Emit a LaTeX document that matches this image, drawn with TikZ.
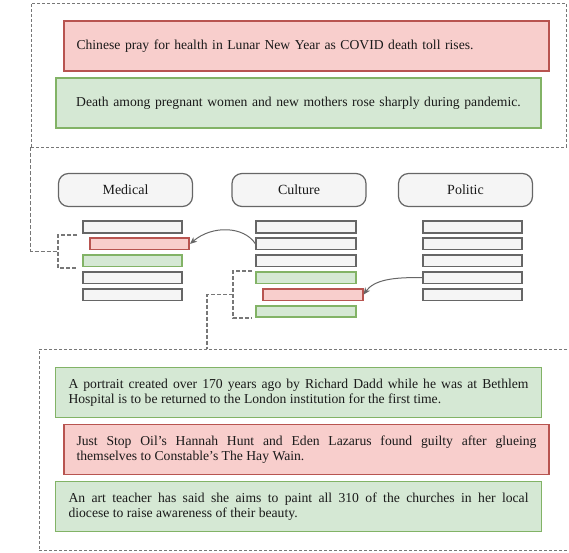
\documentclass[tikz,border=0pt]{standalone}
\usepackage{fontspec}
\setmainfont{Liberation Serif}
\usetikzlibrary{arrows.meta}
\definecolor{redfill}{HTML}{F8CECC}
\definecolor{redline}{HTML}{B85450}
\definecolor{greenfill}{HTML}{D5E8D4}
\definecolor{greenline}{HTML}{82B366}
\definecolor{grayfill}{HTML}{F5F5F5}
\definecolor{grayline}{HTML}{666666}
\definecolor{dashcol}{HTML}{777777}
\definecolor{txt}{HTML}{1A1A1A}
\begin{document}
\begin{tikzpicture}[x=1pt,y=-1pt,
  frame/.style={draw=dashcol, dash pattern=on 3pt off 2pt, line width=0.8pt, inner sep=0pt},
  txtbox/.style={line width=1.2pt, inner ysep=0pt, minimum height=50pt, text=txt, font=\fontsize{13.65}{14.6}\selectfont},
  redbox/.style={txtbox, draw=redline, fill=redfill},
  greenbox/.style={txtbox, draw=greenline, fill=greenfill},
  cat/.style={draw=grayline, fill=grayfill, rounded corners=10pt, line width=1.2pt, minimum width=134pt, minimum height=33pt, inner sep=0pt, text=txt, font=\fontsize{14}{16}\selectfont},
  bar/.style={line width=1.6pt, minimum width=99.5pt, minimum height=11.5pt, inner sep=0pt},
  gbar/.style={bar, draw=grayline, fill=grayfill},
  rbar/.style={bar, draw=redline, fill=redfill},
  ebar/.style={bar, draw=greenline, fill=greenfill},
  link/.style={draw=dashcol, dash pattern=on 4pt off 2pt, line width=1.2pt},
  arr/.style={draw=grayline, line width=1pt, -{Stealth[length=7pt,width=6pt]}}
]
\useasboundingbox (0,0) rectangle (569,552);

% top frame
\node[frame, minimum width=535pt, minimum height=144pt] (topframe) at (298.5,75) {};
\node[redbox, inner xsep=12.5pt, text width=460pt, align=left] (t1) at (306.5,46)
  {Chinese pray for health in Lunar New Year as COVID death toll rises.};
\node[greenbox, inner xsep=12.5pt, text width=460pt, align=center] (t2) at (298.5,103)
  {Death among pregnant women and new mothers rose sharply during pandemic.};

% categories
\node[cat] (medical) at (125.5,190) {Medical};
\node[cat] (culture) at (299,190) {Culture};
\node[cat] (politic) at (465.5,190) {Politic};

% medical column
\node[gbar] (m1) at (132.5,227) {};
\node[rbar] (m2) at (139.5,243.9) {};
\node[ebar] (m3) at (132.5,260.8) {};
\node[gbar] (m4) at (132.5,277.7) {};
\node[gbar] (m5) at (132.5,294.6) {};

% culture column
\node[gbar] (c1) at (306,227) {};
\node[gbar] (c2) at (306,243.9) {};
\node[gbar] (c3) at (306,260.8) {};
\node[ebar] (c4) at (306,277.7) {};
\node[rbar] (c5) at (313,294.6) {};
\node[ebar] (c6) at (306,311.5) {};

% politic column
\node[gbar] (p1) at (472.5,227) {};
\node[gbar] (p2) at (472.5,243.9) {};
\node[gbar] (p3) at (472.5,260.8) {};
\node[gbar] (p4) at (472.5,277.7) {};
\node[gbar] (p5) at (472.5,294.6) {};

% bottom frame
\node[frame, minimum width=531pt, minimum height=201pt] (botframe) at (304.5,449.5) {};
\node[greenbox, inner xsep=13pt, text width=460pt, align=justify] (b1) at (298.5,392.5)
  {A portrait created over 170 years ago by Richard Dadd while he was at Bethlem\linebreak Hospital is to be returned to the London institution for the first time.};
\node[redbox, inner xsep=12.5pt, text width=460pt, align=justify] (b2) at (306.5,449.5)
  {Just Stop Oil’s Hannah Hunt and Eden Lazarus found guilty after glueing\linebreak themselves to Constable’s The Hay Wain.};
\node[greenbox, inner xsep=13pt, text width=460pt, align=justify] (b3) at (298.5,506.5)
  {An art teacher has said she aims to paint all 310 of the churches in her local\linebreak diocese to raise awareness of their beauty.};

% medical bracket
\coordinate (mtop) at (77,235);
\coordinate (mbot) at (77,268);
\coordinate (mmid) at (58,251.5);
\draw[link] (mtop) -- (58,235) -- (58,268) -- (mbot);
\draw[link] (topframe.south west) |- (mmid);

% culture bracket
\coordinate (ctop) at (252,271);
\coordinate (cbot) at (252,318);
\coordinate (cmid) at (233,294.5);
\coordinate (cdrop) at (207,349);
\draw[link] (ctop) -- (233,271) -- (233,318) -- (cbot);
\draw[link] (cmid) -| (cdrop);

% arrows
\draw[arr] (c2.west) .. controls (244,226) and (212,225) .. (m2.east);
\draw[arr] (p4.west) .. controls (393,277) and (374,280) .. (c5.east);
\end{tikzpicture}
\end{document}
